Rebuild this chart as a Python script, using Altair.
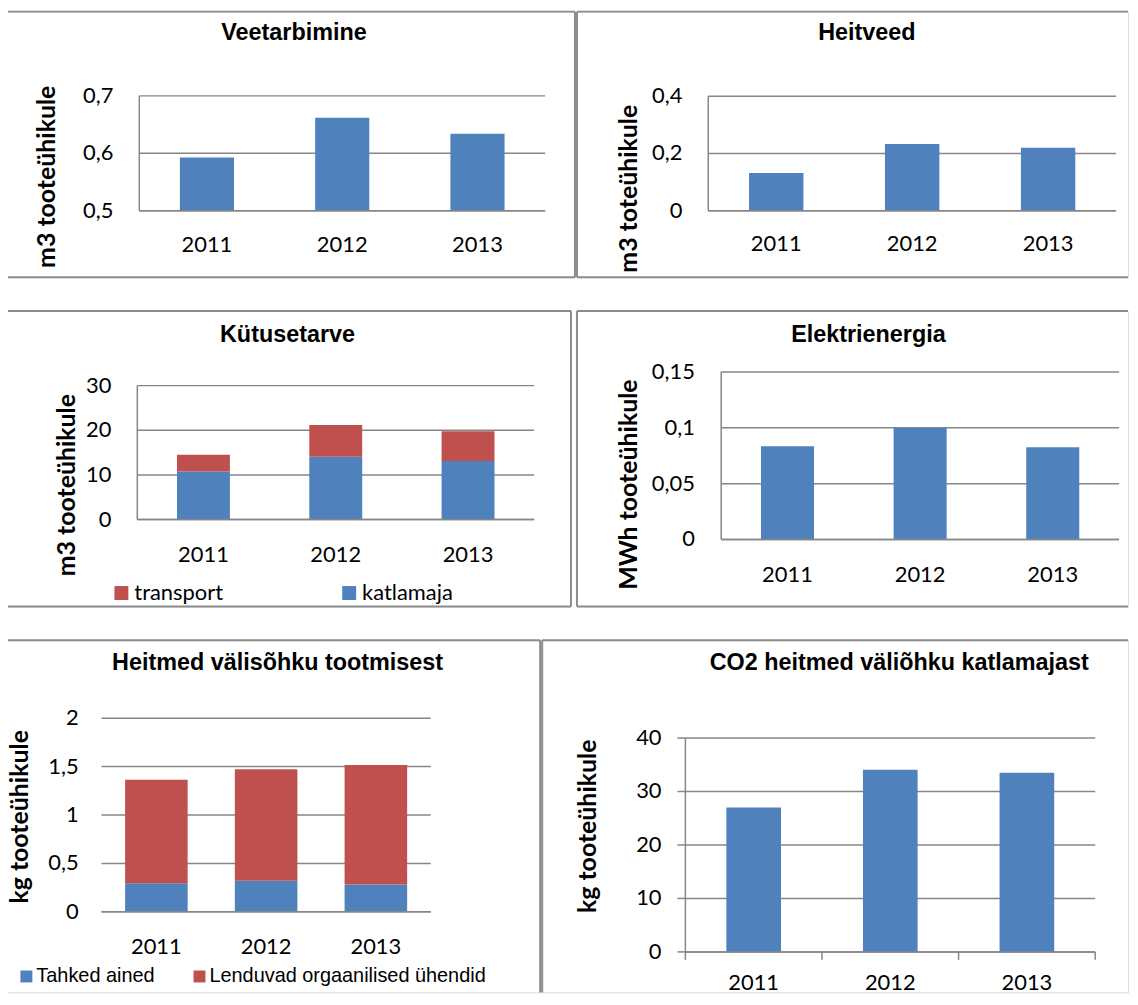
import altair as alt
import pandas as pd

# ---------------- data ----------------
years = ["2011", "2012", "2013"]
veetarbimine = [0.593, 0.662, 0.634]
heitveed = [0.132, 0.233, 0.220]
katlamaja = [10.8, 14.1, 13.1]
transport = [3.7, 7.1, 6.7]
elektrienergia = [0.0835, 0.0998, 0.0826]
tahked_ained = [0.295, 0.322, 0.281]
lenduvad = [1.068, 1.151, 1.236]
co2 = [27.0, 34.05, 33.5]

ticks_vee = [0.5, 0.6, 0.7]
ticks_heit = [0, 0.2, 0.4]
ticks_kyt = [0, 10, 20, 30]
ticks_el = [0, 0.05, 0.1, 0.15]
ticks_heitmed = [0, 0.5, 1, 1.5, 2]
ticks_co2 = [0, 10, 20, 30, 40]

BLUE = "#4F81BD"
RED = "#C0504D"
LINE = "#868686"
BORDER = "#8c8c8c"
NUM_FONT = "Lato"
HEAD_FONT = "Liberation Sans, Arial, sans-serif"


def one():
    return pd.DataFrame({"k": [0]})


def tick_df(ticks):
    return pd.DataFrame({"tick": ticks, "label": [str(t).replace(".", ",") for t in ticks]})


def borders(w, h, sides):
    out = []
    if "top" in sides:
        out.append(alt.Chart(one()).mark_rule(color=BORDER, strokeWidth=2).encode(
            x=alt.value(0), x2=alt.value(w), y=alt.value(0)))
    if "bottom" in sides:
        out.append(alt.Chart(one()).mark_rule(color=BORDER, strokeWidth=2).encode(
            x=alt.value(0), x2=alt.value(w), y=alt.value(h)))
    if "left" in sides:
        out.append(alt.Chart(one()).mark_rule(color=BORDER, strokeWidth=2).encode(
            x=alt.value(0), y=alt.value(0), y2=alt.value(h)))
    if "right" in sides:
        out.append(alt.Chart(one()).mark_rule(color=BORDER, strokeWidth=2).encode(
            x=alt.value(w), y=alt.value(0), y2=alt.value(h)))
    return out


def panel(bars, xs, ys, ticks, ydom, xr, w, h, title, tcx, tby, ytitle, ytx, yty,
          xlab_y, lab_right, sides, ydomain=True, tick_marks=False):
    tdf = tick_df(ticks)
    yenc = alt.Y("tick:Q", scale=ys, axis=None)
    grid = alt.Chart(tdf).mark_rule(color=LINE, strokeWidth=1.5).encode(
        y=yenc, x=alt.value(xr[0]), x2=alt.value(xr[1]))
    ylab = alt.Chart(tdf).mark_text(align="right", baseline="middle", font=NUM_FONT, fontSize=22,
                                    color="black").encode(y=yenc, x=alt.value(lab_right), text="label:N")
    lim = pd.DataFrame({"lo": [ydom[0]], "hi": [ydom[1]]})
    base = alt.Chart(lim).mark_rule(color=LINE, strokeWidth=1.5).encode(
        y=alt.Y("lo:Q", scale=ys, axis=None), x=alt.value(xr[0]), x2=alt.value(xr[1]))
    xlab = alt.Chart(pd.DataFrame({"year": years})).mark_text(
        baseline="middle", font=NUM_FONT, fontSize=22, color="black").encode(
        x=alt.X("year:N", scale=xs, axis=None), y=alt.value(xlab_y), text="year:N")
    ttl = alt.Chart(pd.DataFrame({"t": [title]})).mark_text(
        font=HEAD_FONT, fontSize=23.5, fontWeight="bold", color="black", align="center",
        baseline="alphabetic").encode(text="t:N", x=alt.value(tcx), y=alt.value(tby))
    yttl = alt.Chart(pd.DataFrame({"t": [ytitle]})).mark_text(
        font=NUM_FONT, fontSize=25, fontWeight="bold", color="black", align="center",
        baseline="middle", angle=270).encode(text="t:N", x=alt.value(ytx), y=alt.value(yty))
    layers = [grid, bars, base, ylab, xlab, ttl, yttl]
    if ydomain:
        layers.append(alt.Chart(lim).mark_rule(color=LINE, strokeWidth=1.5).encode(
            y=alt.Y("lo:Q", scale=ys, axis=None), y2="hi:Q", x=alt.value(xr[0])))
    if tick_marks:
        layers.append(alt.Chart(tdf).mark_rule(color=LINE, strokeWidth=1.5).encode(
            y=yenc, x=alt.value(xr[0] - 8), x2=alt.value(xr[0])))
        bdf = pd.DataFrame({"b": list(range(len(years) + 1))})
        layers.append(alt.Chart(bdf).mark_rule(color=LINE, strokeWidth=1.5).encode(
            x=alt.X("b:Q", scale=alt.Scale(domain=[0, len(years)], range=xr, nice=False), axis=None),
            y=alt.value(ys.range[0]), y2=alt.value(ys.range[0] + 8)))
    layers += borders(w, h, sides)
    ch = alt.layer(*layers).properties(width=w, height=h)
    if tick_marks:
        ch = ch.resolve_scale(x="independent")
    return ch


def xscale(rng, pi=0.6):
    return alt.Scale(domain=years, range=rng, paddingInner=pi, paddingOuter=pi / 2)


def yscale(dom, rng):
    return alt.Scale(domain=dom, range=rng, nice=False, zero=False)


# ---------------- panel 1: Veetarbimine ----------------
xs1, ys1 = xscale([133, 541]), yscale([0.5, 0.7], [200.3, 84.7])
df1 = pd.DataFrame({"year": years, "value": veetarbimine, "base": [0.5] * 3})
b1 = alt.Chart(df1).mark_bar(color=BLUE).encode(
    x=alt.X("year:N", scale=xs1, axis=None), y=alt.Y("value:Q", scale=ys1, axis=None), y2="base:Q")
p1 = panel(b1, xs1, ys1, ticks_vee, [0.5, 0.7], [133, 541], 571, 267, "Veetarbimine", 288.5, 29,
           "m3 tooteühikule", 40, 166, 234.5, 107, ["top", "left", "bottom", "right"])

# ---------------- panel 2: Heitveed ----------------
xs2, ys2 = xscale([132, 542]), yscale([0, 0.4], [200.3, 85])
df2 = pd.DataFrame({"year": years, "value": heitveed})
b2 = alt.Chart(df2).mark_bar(color=BLUE).encode(
    x=alt.X("year:N", scale=xs2, axis=None), y=alt.Y("value:Q", scale=ys2, axis=None))
p2 = panel(b2, xs2, ys2, ticks_heit, [0, 0.4], [132, 542], 554, 267, "Heitveed", 291.5, 29,
           "m3 toteühikule", 52.6, 178, 234, 106, ["top", "left", "bottom"])

# ---------------- panel 3: Kütusetarve ----------------
xs3, ys3 = xscale([131, 530]), yscale([0, 30], [209.7, 75])
df3 = pd.DataFrame({"year": years * 2,
                    "series": ["katlamaja"] * 3 + ["transport"] * 3,
                    "value": katlamaja + transport,
                    "ord": [0] * 3 + [1] * 3})
b3 = alt.Chart(df3).mark_bar().encode(
    x=alt.X("year:N", scale=xs3, axis=None),
    y=alt.Y("value:Q", stack="zero", scale=ys3, axis=None),
    color=alt.Color("series:N", scale=alt.Scale(domain=["transport", "katlamaja"], range=[RED, BLUE]),
                    legend=alt.Legend(title=None, orient="none", legendX=104, legendY=272.5,
                                      direction="horizontal", symbolType="square", symbolSize=196,
                                      symbolStrokeWidth=0, labelFont=NUM_FONT, labelFontSize=22,
                                      labelColor="black", labelOffset=2, columnPadding=115, padding=0,
                                      labelLimit=500)),
    order=alt.Order("ord:Q"),
)
p3 = panel(b3, xs3, ys3, ticks_kyt, [0, 30], [131, 530], 567, 297, "Kütusetarve", 282, 31,
           "m3 tooteühikule", 60.8, 175, 245, 105, ["top", "left", "bottom", "right"])

# ---------------- panel 4: Elektrienergia ----------------
xs4, ys4 = xscale([145, 545]), yscale([0, 0.15], [229.7, 61.3])
df4 = pd.DataFrame({"year": years, "value": elektrienergia})
b4 = alt.Chart(df4).mark_bar(color=BLUE).encode(
    x=alt.X("year:N", scale=xs4, axis=None), y=alt.Y("value:Q", scale=ys4, axis=None))
p4 = panel(b4, xs4, ys4, ticks_el, [0, 0.15], [145, 545], 554, 297, "Elektrienergia", 293, 31,
           "MWh tooteühikule", 51.9, 174.5, 265, 118.5, ["top", "left", "bottom"])

# ---------------- panel 5: Heitmed välisõhku tootmisest ----------------
xs5, ys5 = xscale([95, 426], 0.43), yscale([0, 2], [273, 78.3])
df5 = pd.DataFrame({"year": years * 2,
                    "series5": ["Tahked ained"] * 3 + ["Lenduvad orgaanilised ühendid"] * 3,
                    "value": tahked_ained + lenduvad,
                    "ord": [0] * 3 + [1] * 3})
b5 = alt.Chart(df5).mark_bar().encode(
    x=alt.X("year:N", scale=xs5, axis=None),
    y=alt.Y("value:Q", stack="zero", scale=ys5, axis=None),
    color=alt.Color("series5:N",
                    scale=alt.Scale(domain=["Tahked ained", "Lenduvad orgaanilised ühendid"],
                                    range=[BLUE, RED]),
                    legend=alt.Legend(title=None, orient="none", legendX=9.5, legendY=328,
                                      direction="horizontal", symbolType="square", symbolSize=144,
                                      symbolStrokeWidth=0, labelFont=HEAD_FONT, labelFontSize=20,
                                      labelColor="black", labelOffset=0, columnPadding=35, padding=0,
                                      labelLimit=500)),
    order=alt.Order("ord:Q"),
)
p5 = panel(b5, xs5, ys5, ticks_heitmed, [0, 2], [95, 426], 536, 354, "Heitmed välisõhku tootmisest",
           272, 30, "kg tooteühikule", 13, 177.5, 308, 72, ["top", "right"], ydomain=False)

# ---------------- panel 6: CO2 heitmed ----------------
xs6, ys6 = xscale([144, 556]), yscale([0, 40], [313.3, 98.3])
df6 = pd.DataFrame({"year": years, "value": co2})
b6 = alt.Chart(df6).mark_bar(color=BLUE).encode(
    x=alt.X("year:N", scale=xs6, axis=None), y=alt.Y("value:Q", scale=ys6, axis=None))
p6 = panel(b6, xs6, ys6, ticks_co2, [0, 40], [144, 556], 589, 354, "CO2 heitmed väliõhku katlamajast",
           359, 30, "kg tooteühikule", 46, 187, 345, 120, ["top", "left"], tick_marks=True)

RES = dict(x="independent", y="independent", color="independent")
row1 = alt.hconcat(p1, p2, spacing=-2).resolve_scale(**RES)
row2 = alt.hconcat(p3, p4, spacing=2).resolve_scale(**RES)
row3 = alt.hconcat(p5, p6, spacing=-2).resolve_scale(**RES)

chart = alt.vconcat(row1, row2, row3, spacing=30).resolve_scale(**RES).properties(
    padding={"left": -3, "top": -1, "right": 0, "bottom": 0}
).configure_view(stroke="transparent").configure(background="white")

chart.save("out.html", embed_options={"renderer": "svg", "actions": False})
